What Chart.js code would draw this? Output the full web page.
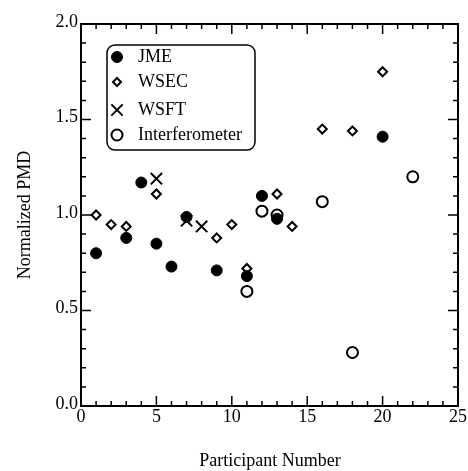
<!DOCTYPE html>
<html>
<head>
<meta charset="utf-8">
<script src="https://cdn.jsdelivr.net/npm/chart.js@4.4.1/dist/chart.umd.min.js"></script>
<style>
  html, body { margin: 0; padding: 0; background: #fff; }
  #wrap { width: 468px; height: 471px; }
</style>
</head>
<body>
<div id="wrap"><canvas id="myChart" width="468" height="471"></canvas></div>
<script>
// data
const jmeX = [1, 3, 4, 5, 6, 7, 9, 11, 12, 13, 20];
const jmeY = [0.80, 0.88, 1.17, 0.85, 0.73, 0.99, 0.71, 0.68, 1.10, 0.98, 1.41];
const wsecX = [1, 2, 3, 5, 9, 10, 11, 13, 14, 16, 18, 20];
const wsecY = [1.00, 0.95, 0.94, 1.11, 0.88, 0.95, 0.72, 1.11, 0.94, 1.45, 1.44, 1.75];
const wsftX = [5, 7, 8];
const wsftY = [1.19, 0.97, 0.94];
const interX = [11, 12, 13, 16, 18, 22];
const interY = [0.60, 1.02, 1.00, 1.07, 0.28, 1.20];
const xTicks = [0, 5, 10, 15, 20, 25];
const yTicks = [0.0, 0.5, 1.0, 1.5, 2.0];

const pts = (xs, ys) => xs.map((x, i) => ({ x: x, y: ys[i] }));
const FONT = '"Liberation Serif", "DejaVu Serif", serif';

// frame, inward ticks, labels and titles drawn by hand so the "25" can clip like the original
const framePlugin = {
  id: 'frame',
  afterDraw(chart) {
    const ctx = chart.ctx;
    const { left, right, top, bottom } = chart.chartArea;
    const xs = chart.scales.x, ys = chart.scales.y;
    ctx.save();
    ctx.strokeStyle = '#000';
    ctx.lineWidth = 2;
    ctx.strokeRect(left, top, right - left, bottom - top);
    ctx.lineWidth = 1.5;
    ctx.beginPath();
    for (let v = 0; v <= 25; v++) {
      const px = xs.getPixelForValue(v);
      const len = v % 5 === 0 ? 10 : 5;
      ctx.moveTo(px, bottom); ctx.lineTo(px, bottom - len);
      ctx.moveTo(px, top); ctx.lineTo(px, top + len);
    }
    for (let k = 0; k <= 20; k++) {
      const py = ys.getPixelForValue(k / 10);
      const len = k % 5 === 0 ? 10 : 5;
      ctx.moveTo(left, py); ctx.lineTo(left + len, py);
      ctx.moveTo(right, py); ctx.lineTo(right - len, py);
    }
    ctx.stroke();

    ctx.fillStyle = '#000';
    ctx.font = '18px ' + FONT;
    ctx.textAlign = 'center';
    ctx.textBaseline = 'top';
    xTicks.forEach(v => ctx.fillText(String(v), xs.getPixelForValue(v), bottom + 2));
    ctx.textAlign = 'right';
    ctx.textBaseline = 'middle';
    yTicks.forEach(v => ctx.fillText(v.toFixed(1), left - 3, ys.getPixelForValue(v) - 2));

    ctx.textAlign = 'center';
    ctx.textBaseline = 'middle';
    ctx.fillText('Participant Number', 270, 461);
    ctx.translate(25, 215);
    ctx.rotate(-Math.PI / 2);
    ctx.fillText('Normalized PMD', 0, 0);
    ctx.restore();
  }
};

// rounded legend box inside the plot
const legendBox = {
  id: 'legendBox',
  afterDraw(chart) {
    const ctx = chart.ctx;
    const x0 = 107, y0 = 45, w = 148, h = 105, r = 8;
    ctx.save();
    ctx.strokeStyle = '#000';
    ctx.lineWidth = 1.5;
    ctx.beginPath();
    ctx.roundRect(x0, y0, w, h, r);
    ctx.stroke();
    const rows = [57, 82, 110, 135];
    chart.data.datasets.forEach((ds, i) => {
      const cy = rows[i], cx = 117;
      ctx.fillStyle = ds.backgroundColor;
      ctx.strokeStyle = '#000';
      ctx.lineWidth = ds.borderWidth;
      Chart.helpers.drawPoint(ctx, {
        pointStyle: ds.pointStyle,
        radius: ds.pointStyle === 'rectRot' ? 4 : ds.pointRadius,
        rotation: 0,
        borderWidth: ds.borderWidth
      }, cx, cy);
      ctx.fillStyle = '#000';
      ctx.font = '18px ' + FONT;
      ctx.textAlign = 'left';
      ctx.textBaseline = 'middle';
      ctx.fillText(ds.label, 138, cy);
    });
    ctx.restore();
  }
};

const ctx = document.getElementById('myChart');
new Chart(ctx, {
  type: 'scatter',
  data: {
    datasets: [
      { label: 'JME', data: pts(jmeX, jmeY), pointStyle: 'circle', pointRadius: 5.5,
        backgroundColor: '#000', borderColor: '#000', borderWidth: 1 },
      { label: 'WSEC', data: pts(wsecX, wsecY), pointStyle: 'rectRot', pointRadius: 4.5,
        backgroundColor: '#fff', borderColor: '#000', borderWidth: 2 },
      { label: 'WSFT', data: pts(wsftX, wsftY), pointStyle: 'crossRot', pointRadius: 8,
        backgroundColor: '#000', borderColor: '#000', borderWidth: 2 },
      { label: 'Interferometer', data: pts(interX, interY), pointStyle: 'circle', pointRadius: 5.5,
        backgroundColor: 'rgba(255,255,255,0)', borderColor: '#000', borderWidth: 2 }
    ]
  },
  options: {
    responsive: false,
    animation: false,
    layout: { padding: { left: 81, right: 5, top: 24, bottom: 65 } },
    plugins: { legend: { display: false }, tooltip: { enabled: false } },
    scales: {
      x: { type: 'linear', min: 0, max: 25, display: false },
      y: { type: 'linear', min: 0, max: 2, display: false }
    }
  },
  plugins: [framePlugin, legendBox]
});
</script>
</body>
</html>
